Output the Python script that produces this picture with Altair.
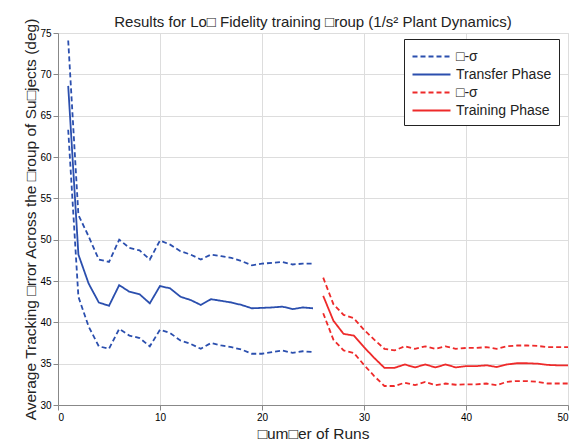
import altair as alt
import pandas as pd

runs_transfer = list(range(1, 26))
runs_training = list(range(26, 51))

transfer_mean = [68.6, 48.2, 44.7, 42.4, 42.0, 44.5, 43.7, 43.4, 42.3, 44.4, 44.1, 43.1, 42.7,
                 42.1, 42.8, 42.6, 42.4, 42.1, 41.7, 41.75, 41.8, 41.9, 41.6, 41.8, 41.7]
transfer_upper = [74.1, 53.0, 50.4, 47.6, 47.3, 50.0, 49.0, 48.7, 47.6, 49.9, 49.4, 48.6, 48.2,
                  47.6, 48.2, 48.0, 47.8, 47.4, 46.9, 47.1, 47.2, 47.3, 47.0, 47.1, 47.1]
transfer_lower = [63.3, 43.1, 39.5, 37.1, 36.8, 39.2, 38.4, 38.1, 37.1, 39.1, 38.7, 37.8, 37.4,
                  36.8, 37.5, 37.2, 37.0, 36.7, 36.2, 36.2, 36.4, 36.6, 36.3, 36.5, 36.4]

training_mean = [43.2, 40.2, 38.6, 38.4, 37.0, 35.7, 34.5, 34.5, 34.9, 34.55, 34.9, 34.55, 34.9,
                 34.55, 34.7, 34.7, 34.8, 34.6, 34.9, 35.05, 35.05, 35.0, 34.85, 34.8, 34.8]
training_upper = [45.4, 42.2, 40.9, 40.5, 39.1, 37.9, 36.8, 36.6, 37.1, 36.8, 37.1, 36.8, 37.1,
                  36.8, 36.9, 36.9, 37.0, 36.8, 37.1, 37.2, 37.2, 37.15, 37.0, 37.0, 37.0]
training_lower = [41.1, 37.9, 36.6, 36.3, 34.85, 33.5, 32.3, 32.3, 32.7, 32.4, 32.8, 32.4, 32.6,
                  32.45, 32.5, 32.5, 32.6, 32.4, 32.8, 32.9, 32.9, 32.8, 32.6, 32.6, 32.6]

series_domain = ["sigmaB", "Transfer Phase", "sigmaR", "Training Phase"]
series_colors = ["#2b4fae", "#2b4fae", "#ee2a2a", "#ee2a2a"]
series_dashes = [[5, 3], [1, 0], [5, 3], [1, 0]]

rows = []
for xs, vals, series, line in [
    (runs_transfer, transfer_upper, "sigmaB", "bu"),
    (runs_transfer, transfer_lower, "sigmaB", "bl"),
    (runs_transfer, transfer_mean, "Transfer Phase", "bm"),
    (runs_training, training_upper, "sigmaR", "ru"),
    (runs_training, training_lower, "sigmaR", "rl"),
    (runs_training, training_mean, "Training Phase", "rm"),
]:
    for x, v in zip(xs, vals):
        rows.append({"run": x, "err": v, "series": series, "line": line})
df = pd.DataFrame(rows)

FONT = "Liberation Sans"
TXT = "#222222"

legend = alt.Legend(
    title=None, orient="none", legendX=346, legendY=6,
    symbolType="M-2,0H2", symbolSize=361, symbolStrokeWidth=1.8,
    labelExpr="datum.label == 'sigmaB' || datum.label == 'sigmaR' ? '\u25a1-\u03c3' : datum.label",
    labelFont=FONT, labelFontSize=14, labelColor=TXT,
    fillColor="white", strokeColor=TXT, padding=7, rowPadding=0,
    labelOffset=14, symbolOffset=10,
)

chart = alt.Chart(df).mark_line(strokeWidth=1.8).encode(
    x=alt.X("run:Q", scale=alt.Scale(domain=[0, 50], nice=False),
            axis=alt.Axis(values=[0, 10, 20, 30, 40, 50], title="\u25a1um\u25a1er of Runs",
                          titlePadding=4, titleFontWeight="normal", titleFontSize=15.5,
                          titleFont=FONT, titleColor=TXT)),
    y=alt.Y("err:Q", scale=alt.Scale(domain=[30, 75], nice=False, zero=False),
            axis=alt.Axis(values=[30, 35, 40, 45, 50, 55, 60, 65, 70, 75],
                          title="Average Tracking \u25a1rror Across the \u25a1roup of Su\u25a1jects (deg)",
                          titlePadding=1, titleFontWeight="normal", titleFontSize=15.5,
                          titleFont=FONT, titleColor=TXT)),
    color=alt.Color("series:N", scale=alt.Scale(domain=series_domain, range=series_colors), legend=legend),
    strokeDash=alt.StrokeDash("series:N", scale=alt.Scale(domain=series_domain, range=series_dashes), legend=legend),
    detail="line:N",
    order="run:Q",
).properties(
    width=510, height=372,
    title=alt.TitleParams("Results for Lo\u25a1 Fidelity training \u25a1roup (1/s\u00b2 Plant Dynamics)",
                          font=FONT, fontSize=15, fontWeight="normal", color=TXT, offset=-12,
                          frame="group"),
    autosize=alt.AutoSizeParams(type="none"),
    padding={"left": 58, "top": 33, "right": 2, "bottom": 37},
).configure_view(
    stroke=TXT, strokeWidth=1.2
).configure_axis(
    labelFont=FONT, labelFontSize=14.5, labelColor=TXT,
    grid=True, gridColor="#9a9a9a", gridWidth=1,
    domainColor=TXT, domainWidth=1.2, ticks=False, labelPadding=5,
).configure(background="white")

chart.save("out.html", embed_options={"renderer": "svg", "actions": False})
